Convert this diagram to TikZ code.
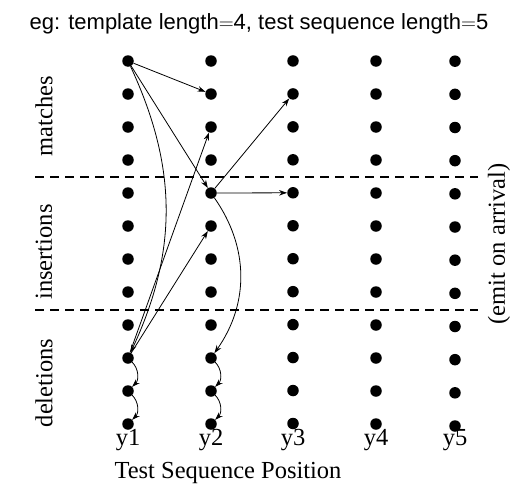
\documentclass[tikz,border=0pt]{standalone}
\usepackage{fontspec}
\setmainfont{Liberation Serif}
\setsansfont{Liberation Sans}
\usetikzlibrary{arrows.meta}
\begin{document}
\begin{tikzpicture}[x=1pt,y=-1pt,
  dot/.style={circle,fill=black,inner sep=0pt,minimum size=11.5pt},
  sep/.style={line width=1.8pt,dash pattern=on 9pt off 6pt},
  arr/.style={line width=0.8pt,-{Stealth[length=8pt,width=5.5pt]}},
  lbl/.style={font=\fontsize{24.5}{28}\selectfont},
  vlbl/.style={font=\fontsize{24.5}{28}\selectfont,rotate=90}]
\useasboundingbox (0,0) rectangle (521,490);
\node[anchor=base,font=\sffamily\fontsize{22}{25}\selectfont] (title) at (259,29) {eg: template length$=$4, test sequence length$=$5};
% dots
\foreach \c/\x/\d in {1/128/0,2/211/0,3/293/-0.5,4/376/0,5/455/2}{
  \foreach \r in {1,...,12}{
    \node[dot] (n\c\r) at (\x,{61+(\r-1)*33+\d*\r/12}) {};
  }
}
% separators
\coordinate (s1a) at (35,177); \coordinate (s1b) at (478,177);
\coordinate (s2a) at (35,310); \coordinate (s2b) at (478,310);
\draw[sep] (s1a) -- (s1b);
\draw[sep] (s2a) -- (s2b);
% labels
\node[vlbl] (lm) at (44,116) {matches};
\node[vlbl] (li) at (44,252) {insertions};
\node[vlbl] (ld) at (44,383) {deletions};
\node[vlbl] (le) at (499,244) {(emit on arrival)};
\foreach \c/\x in {1/128,2/211,3/293,4/376,5/455}{
  \node[lbl,anchor=base] (y\c) at (\x,445) {y\c};
}
\node[lbl,anchor=base] (xl) at (228,478) {Test Sequence Position};
% arrows
\draw[arr] (n11) -- (n22);
\draw[arr] (n11) -- (n25);
\draw[arr] (n11) to[bend left=25] (n110);
\draw[arr] (n110) -- (n23);
\draw[arr] (n110) -- (n26);
\draw[arr] (n25) -- (n32);
\draw[arr] (n25) -- (n35);
\draw[arr] (n25) to[bend left=35] (n210);
\draw[arr] (n110) to[bend left=45] (n111);
\draw[arr] (n111) to[bend left=45] (n112);
\draw[arr] (n210) to[bend left=45] (n211);
\draw[arr] (n211) to[bend left=45] (n212);
\end{tikzpicture}
\end{document}
